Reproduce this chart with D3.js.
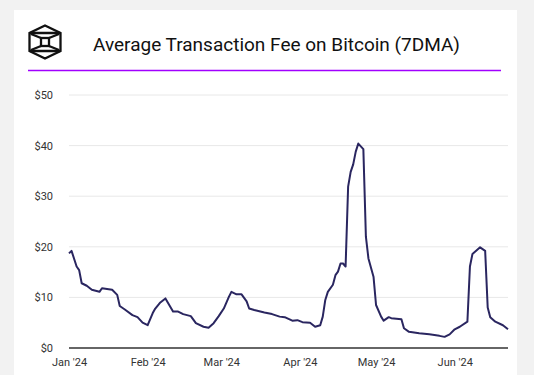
<!DOCTYPE html>
<html>
<head>
<meta charset="utf-8">
<script src="https://cdn.jsdelivr.net/npm/d3@7"></script>
<style>
  body { margin: 0; background: #f2f2f2; font-family: Roboto, "Noto Sans", sans-serif; }
</style>
</head>
<body>
<svg id="chart" width="534" height="375"></svg>
<script>
// 7 day moving average fee, USD
const dates = ["2024-01-01","2024-01-02","2024-01-04","2024-01-05","2024-01-06","2024-01-08","2024-01-10","2024-01-13","2024-01-14","2024-01-18","2024-01-20","2024-01-21","2024-01-23","2024-01-26","2024-01-28","2024-01-30","2024-02-01","2024-02-03","2024-02-04","2024-02-06","2024-02-08","2024-02-11","2024-02-13","2024-02-15","2024-02-18","2024-02-20","2024-02-23","2024-02-25","2024-02-27","2024-02-29","2024-03-02","2024-03-04","2024-03-05","2024-03-07","2024-03-09","2024-03-11","2024-03-12","2024-03-14","2024-03-18","2024-03-21","2024-03-24","2024-03-26","2024-03-29","2024-03-31","2024-04-02","2024-04-05","2024-04-07","2024-04-09","2024-04-10","2024-04-11","2024-04-12","2024-04-14","2024-04-15","2024-04-16","2024-04-17","2024-04-18","2024-04-19","2024-04-20","2024-04-21","2024-04-22","2024-04-23","2024-04-24","2024-04-26","2024-04-27","2024-04-28","2024-04-30","2024-05-01","2024-05-03","2024-05-04","2024-05-06","2024-05-07","2024-05-11","2024-05-12","2024-05-14","2024-05-18","2024-05-22","2024-05-26","2024-05-28","2024-05-30","2024-06-01","2024-06-03","2024-06-06","2024-06-07","2024-06-08","2024-06-11","2024-06-13","2024-06-14","2024-06-15","2024-06-17","2024-06-20","2024-06-22"];
const fees = [18.7,19.2,16.1,15.4,12.8,12.3,11.5,11.1,11.8,11.5,10.5,8.3,7.6,6.5,6.1,5.0,4.5,6.9,7.8,9.0,9.8,7.2,7.2,6.7,6.3,4.9,4.2,4.0,4.9,6.3,7.8,10.1,11.1,10.6,10.6,9.2,7.8,7.5,7.0,6.7,6.2,6.1,5.4,5.5,5.1,5.0,4.2,4.5,6.2,9.5,11.1,12.5,14.4,15.1,16.7,16.7,16.1,31.9,34.8,36.3,38.8,40.4,39.3,22.0,17.7,14.1,8.5,6.2,5.4,6.1,5.9,5.7,3.9,3.2,2.9,2.7,2.4,2.2,2.7,3.7,4.2,5.2,16.1,18.6,19.9,19.2,8.0,6.1,5.2,4.5,3.7];
const yTicks = [0,10,20,30,40,50];
const xTickDates = ["2024-01-01","2024-02-01","2024-03-01","2024-04-01","2024-05-01","2024-06-01"];
const title = "Average Transaction Fee on Bitcoin (7DMA)";

const parse = d3.timeParse("%Y-%m-%d");
const data = dates.map((d,i)=>({date: parse(d), value: fees[i]}));

const svg = d3.select("#chart");
// white card
svg.append("rect").attr("x",14).attr("y",10).attr("width",503).attr("height",380).attr("fill","#fff");

// logo
let logo = svg.append("g").attr("fill","none").attr("stroke","#111").attr("stroke-width",2.3);
logo.append("path").attr("d","M45,25.5 L60.5,33 L60.5,51 L45,58.5 L29.5,51 L29.5,33 Z");
logo.append("path").attr("d","M30,33 L60,33 M30,51 L60,51");
logo.append("rect").attr("x",41).attr("y",38).attr("width",8).attr("height",8);
logo.append("path").attr("d","M31,34 L41,38 M59,34 L49,38 M31,50 L41,46 M59,50 L49,46");

svg.append("text").attr("x",93).attr("y",51).attr("font-size",19).attr("fill","#111")
  .text(title);
svg.append("line").attr("x1",28).attr("x2",501).attr("y1",70.5).attr("y2",70.5)
  .attr("stroke","#a100ff").attr("stroke-width",1.5);

const x = d3.scaleTime().domain([parse("2024-01-01"), parse("2024-06-22")]).range([69, 508]);
const y = d3.scaleLinear().domain([0,50]).range([348, 95]);

// grid
svg.append("g").selectAll("line").data(yTicks.slice(1)).enter().append("line")
  .attr("x1",69).attr("x2",508).attr("y1",d=>y(d)).attr("y2",d=>y(d))
  .attr("stroke","#e8e8e8").attr("stroke-width",1);

const yAxis = d3.axisLeft(y).tickValues(yTicks).tickSize(0).tickPadding(0).tickFormat(d=>"$"+d);
svg.append("g").attr("transform","translate(53,0)").call(yAxis)
  .call(g=>g.select(".domain").remove())
  .call(g=>g.selectAll("text").attr("fill","#333").attr("font-size",11).attr("font-family","Roboto"));

const xAxis = d3.axisBottom(x).tickValues(xTickDates.map(parse)).tickSize(0).tickPadding(0)
  .tickFormat(d3.timeFormat("%b '%y"));
svg.append("g").attr("transform","translate(0,358)").call(xAxis)
  .call(g=>g.select(".domain").remove())
  .call(g=>g.selectAll("text").attr("fill","#333").attr("font-size",11).attr("font-family","Roboto"));

svg.append("line").attr("x1",69).attr("x2",508).attr("y1",y(0)).attr("y2",y(0))
  .attr("stroke","#333").attr("stroke-width",1.5);

const line = d3.line().x(d=>x(d.date)).y(d=>y(d.value));
svg.append("path").datum(data).attr("d",line).attr("fill","none")
  .attr("stroke","#2a2660").attr("stroke-width",2).attr("stroke-linejoin","round");
</script>
</body>
</html>
